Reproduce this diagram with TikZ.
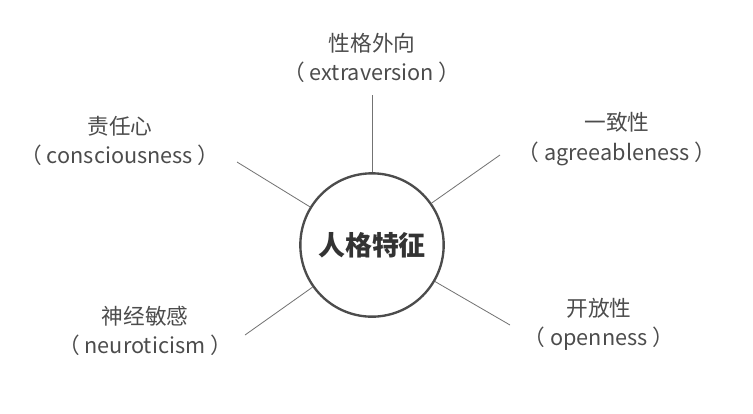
\documentclass[tikz,border=0pt]{standalone}
\usepackage{fontspec}
\setmainfont{Noto Sans CJK SC}
\usetikzlibrary{positioning, calc}

\begin{document}
\begin{tikzpicture}[
  x=0.03cm, y=-0.03cm,
  trait/.style={align=center, text=black!70, font=\fontsize{18.5}{25}\selectfont, inner sep=0pt},
  link/.style={draw=black!55, line width=0.7pt}
]
\useasboundingbox (0,0) rectangle (753,413);
% Centre
\node[circle, draw=black!70, line width=2pt, minimum size=4.3cm, font=\fontsize{23}{27}\selectfont\bfseries, text=black!80] (core) at (372,245) {人格特征};
% Traits
\node[trait] (extra) at (372,58) {性格外向\\（ extraversion ）};
\node[trait] (consc) at (120,141) {责任心\\（ consciousness ）};
\node[trait] (agree) at (617,139) {一致性\\（ agreeableness ）};
\node[trait] (neuro) at (145,331) {神经敏感\\（ neuroticism ）};
\node[trait] (open) at (599,324) {开放性\\（ openness ）};
% Line ends
\coordinate (e1) at (372,95);
\coordinate (c1) at (237,162);
\coordinate (a1) at (500,155);
\coordinate (n1) at (245,335);
\coordinate (o1) at (510,325);
\draw[link] (core) -- (e1);
\draw[link] (core) -- (c1);
\draw[link] (core) -- (a1);
\draw[link] (core) -- (n1);
\draw[link] (core) -- (o1);
\end{tikzpicture}
\end{document}
